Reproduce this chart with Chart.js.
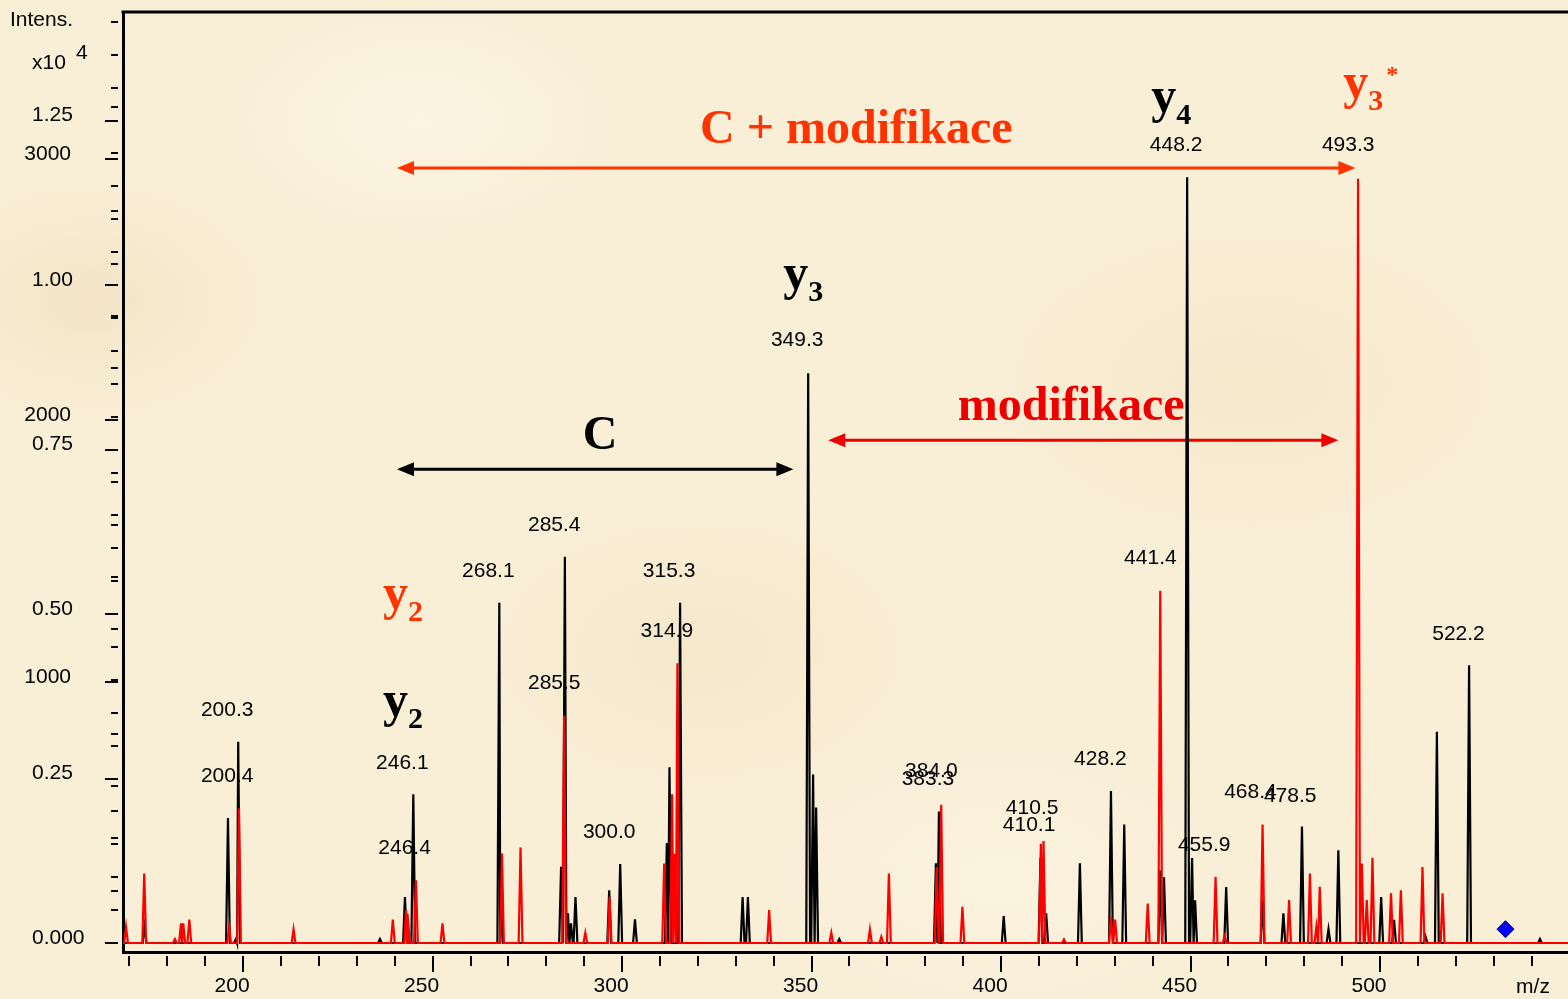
<!DOCTYPE html>
<html>
<head>
<meta charset="utf-8">
<script src="https://cdn.jsdelivr.net/npm/chart.js@4.4.1/dist/chart.umd.min.js"></script>
<style>
html, body { margin: 0; padding: 0; }
body {
  width: 1568px; height: 999px; overflow: hidden;
  background-color: #f9eed6;
  background-image:
    radial-gradient(ellipse 180px 120px at 90px 300px, rgba(236,218,178,0.45), rgba(236,218,178,0)),
    radial-gradient(ellipse 220px 140px at 700px 650px, rgba(238,222,186,0.4), rgba(238,222,186,0)),
    radial-gradient(ellipse 260px 160px at 1250px 380px, rgba(238,220,182,0.35), rgba(238,220,182,0)),
    radial-gradient(ellipse 200px 120px at 420px 120px, rgba(255,250,236,0.6), rgba(255,250,236,0)),
    radial-gradient(ellipse 240px 140px at 1000px 880px, rgba(255,248,232,0.5), rgba(255,248,232,0));
}
canvas { display: block; }
</style>
</head>
<body>
<canvas id="spektrum" width="1568" height="999"></canvas>
<script>
// osa m/z a intenzity
var xMin = 168.3, xMax = 549.6;
var yMin = -0.0137, yMax = 1.415;   // x10^4
var y2Min = -34.4, y2Max = 3563;    // counts

var xTickValues = [200, 250, 300, 350, 400, 450, 500];
var xTickLabels = ['200', '250', '300', '350', '400', '450', '500'];
var yTickValues = [0, 0.25, 0.5, 0.75, 1.0, 1.25];
var yTickLabels = ['0.000', '0.25', '0.50', '0.75', '1.00', '1.25'];
var y2TickValues = [1000, 2000, 3000];
var y2TickLabels = ['1000', '2000', '3000'];

// cerne spektrum (x10^4)
var cerneMz = [174.0, 196.0, 198.1, 198.7, 236.1, 242.7, 244.9, 267.6, 268.1, 283.9, 284.9, 285.7, 286.5, 287.7,
  296.6, 299.5, 303.4, 311.8, 312.5, 315.3, 331.8, 333.2, 349.1, 350.4, 351.2, 357.3, 382.8, 383.6, 400.7,
  410.4, 411.9, 420.8, 429.0, 432.5, 442.0, 443.0, 449.1, 450.4, 451.2, 459.4, 469.0, 474.5, 479.4, 486.4,
  489.0, 500.3, 503.7, 512.0, 515.0, 523.5, 542.2];
var cerneInt = [0.025, 0.19, 0.006, 0.306, 0.006, 0.07, 0.226, 0.517, 0.085, 0.116, 0.587, 0.045, 0.03, 0.07,
  0.08, 0.12, 0.036, 0.152, 0.267, 0.517, 0.07, 0.07, 0.866, 0.256, 0.206, 0.006, 0.121, 0.2, 0.041,
  0.13, 0.045, 0.121, 0.231, 0.18, 0.11, 0.10, 1.164, 0.129, 0.065, 0.085, 0.065, 0.045, 0.177, 0.021,
  0.141, 0.07, 0.035, 0.01, 0.321, 0.422, 0.006];

// cervene spektrum (counts)
var cerveneMz = [169.1, 173.9, 182.0, 183.6, 184.2, 185.8, 196.3, 198.9, 213.3, 239.5, 243.0, 243.5, 245.6,
  252.6, 268.3, 273.2, 284.7, 290.3, 296.7, 311.1, 313.2, 313.8, 314.6, 338.8, 355.2, 365.4, 368.4, 370.4,
  383.0, 384.2, 389.8, 410.5, 411.2, 416.6, 429.0, 430.1, 438.7, 442.0, 456.6, 459.0, 469.0, 476.0, 481.5,
  483.2, 484.1, 494.2, 495.2, 496.5, 498.0, 502.9, 505.5, 511.2, 516.5];
var cerveneInt = [62, 266, 15, 75, 75, 90, 62, 516, 52, 90, 126, 113, 240,
  75, 342, 365, 870, 39, 177, 304, 569, 342, 1071, 126, 39, 52, 24, 266,
  291, 529, 139, 380, 390, 14, 100, 90, 151, 1348, 253, 27, 453, 164, 266,
  62, 215, 2925, 304, 164, 326, 190, 202, 291, 190];

// modry kosoctverec
var znackaMz = [533.1];
var znackaInt = [0.021];

// popisky piku
var popisky = ['448.2', '493.3', '349.3', '285.4', '268.1', '315.3', '314.9', '285.5', '441.4', '522.2',
  '200.3', '200.4', '246.1', '246.4', '300.0', '384.0', '383.3', '410.5', '410.1', '428.2', '455.9', '468.4', '478.5'];
var popiskyMz = [446.2, 491.6, 346.2, 282.1, 264.7, 312.4, 311.8, 282.1, 439.4, 520.7,
  195.8, 195.8, 242.0, 242.6, 296.6, 381.6, 380.7, 408.2, 407.4, 426.2, 453.6, 465.8, 476.3];
var popiskyInt = [1.213, 1.213, 0.916, 0.635, 0.565, 0.565, 0.474, 0.395, 0.585, 0.470,
  0.354, 0.254, 0.274, 0.144, 0.169, 0.261, 0.249, 0.205, 0.179, 0.280, 0.149, 0.229, 0.223];

// oznaceni iontu
var ionyIndex = ['4', '3', '3', '2', '2'];
var ionyHvezda = [false, true, false, false, false];
var ionyMz = [439.6, 490.3, 342.5, 236.9, 236.9];
var ionyInt = [1.263, 1.284, 0.994, 0.508, 0.345];
var ionyBarva = ['#000000', '#ff3300', '#000000', '#ff3300', '#000000'];

// sipky
var sipkyOd = [240.6, 240.6, 354.4];
var sipkyDo = [493.5, 345.2, 489.0];
var sipkyInt = [1.178, 0.720, 0.764];
var sipkyBarva = ['#ff3300', '#000000', '#ee0000'];

var napisy = ['C + modifikace', 'modifikace', 'C'];
var napisyMz = [361.8, 418.5, 294.2];
var napisyInt = [1.234, 0.814, 0.770];
var napisyBarva = ['#ff3300', '#ee0000', '#000000'];

function profil(mz, inten) {
  var body = [{x: xMin, y: 0}];
  var hw = 0.5;
  for (var i = 0; i < mz.length; i++) {
    var lev = mz[i] - hw, prav = mz[i] + hw;
    if (i > 0) lev = Math.max(lev, (mz[i - 1] + mz[i]) / 2);
    if (i < mz.length - 1) prav = Math.min(prav, (mz[i] + mz[i + 1]) / 2);
    body.push({x: lev, y: 0}, {x: mz[i], y: inten[i]}, {x: prav, y: 0});
  }
  body.push({x: xMax, y: 0});
  return body;
}

var SANS = '"Liberation Sans", Arial, sans-serif';
var SERIF = '"Liberation Serif", "Times New Roman", serif';

function sipka(ctx, x1, x2, y, barva) {
  ctx.strokeStyle = barva;
  ctx.fillStyle = barva;
  ctx.lineWidth = 3;
  ctx.beginPath();
  ctx.moveTo(x1 + 10, y);
  ctx.lineTo(x2 - 10, y);
  ctx.stroke();
  ctx.beginPath();
  ctx.moveTo(x1, y); ctx.lineTo(x1 + 17, y - 7); ctx.lineTo(x1 + 17, y + 7); ctx.closePath();
  ctx.fill();
  ctx.beginPath();
  ctx.moveTo(x2, y); ctx.lineTo(x2 - 17, y - 7); ctx.lineTo(x2 - 17, y + 7); ctx.closePath();
  ctx.fill();
}

var ozdoby = {
  id: 'ozdoby',
  beforeDatasetsDraw: function(chart) {
    var ctx = chart.ctx, sx = chart.scales.x, sy = chart.scales.y;
    var i;
    ctx.save();
    // cisla u piku
    ctx.font = '21px ' + SANS;
    ctx.fillStyle = '#000';
    ctx.textAlign = 'center';
    ctx.textBaseline = 'middle';
    for (i = 0; i < popisky.length; i++) {
      ctx.fillText(popisky[i], sx.getPixelForValue(popiskyMz[i]), sy.getPixelForValue(popiskyInt[i]));
    }
    // sipky
    for (i = 0; i < sipkyOd.length; i++) {
      sipka(ctx, sx.getPixelForValue(sipkyOd[i]), sx.getPixelForValue(sipkyDo[i]), sy.getPixelForValue(sipkyInt[i]), sipkyBarva[i]);
    }
    // velke napisy
    ctx.font = 'bold 48px ' + SERIF;
    for (i = 0; i < napisy.length; i++) {
      ctx.fillStyle = napisyBarva[i];
      ctx.fillText(napisy[i], sx.getPixelForValue(napisyMz[i]), sy.getPixelForValue(napisyInt[i]));
    }
    // y ionty
    ctx.textAlign = 'left';
    ctx.textBaseline = 'alphabetic';
    for (i = 0; i < ionyIndex.length; i++) {
      var px = sx.getPixelForValue(ionyMz[i]), py = sy.getPixelForValue(ionyInt[i]);
      ctx.fillStyle = ionyBarva[i];
      ctx.font = 'bold 50px ' + SERIF;
      ctx.fillText('y', px, py);
      var w = ctx.measureText('y').width;
      ctx.font = 'bold 30px ' + SERIF;
      ctx.fillText(ionyIndex[i], px + w, py + 12);
      if (ionyHvezda[i]) {
        var w2 = ctx.measureText(ionyIndex[i]).width;
        ctx.font = 'bold 24px ' + SERIF;
        ctx.fillText('*', px + w + w2 + 3, py - 16);
      }
    }
    ctx.restore();
  },
  afterDraw: function(chart) {
    var ctx = chart.ctx, a = chart.chartArea;
    var sx = chart.scales.x, sy = chart.scales.y, sy2 = chart.scales.y2;
    var v, p, i;
    ctx.save();
    // horni okraj
    ctx.strokeStyle = '#000';
    ctx.lineWidth = 3;
    ctx.beginPath();
    ctx.moveTo(a.left - 1.5, a.top);
    ctx.lineTo(a.right, a.top);
    ctx.stroke();

    // carky na ose y (obe stupnice)
    ctx.lineWidth = 2;
    for (i = 0; i <= 28; i++) {
      v = i * 0.05;
      p = Math.round(sy.getPixelForValue(v));
      ctx.beginPath();
      ctx.moveTo(i % 5 === 0 ? 105 : 111, p);
      ctx.lineTo(118, p);
      ctx.stroke();
    }
    for (i = 0; i <= 17; i++) {
      v = i * 200;
      p = Math.round(sy2.getPixelForValue(v));
      ctx.beginPath();
      ctx.moveTo(i % 5 === 0 ? 105 : 111, p);
      ctx.lineTo(118, p);
      ctx.stroke();
    }
    // popisky druhe stupnice
    ctx.font = '21px ' + SANS;
    ctx.fillStyle = '#000';
    ctx.textAlign = 'right';
    ctx.textBaseline = 'middle';
    for (i = 0; i < y2TickValues.length; i++) {
      ctx.fillText(y2TickLabels[i], 71, sy2.getPixelForValue(y2TickValues[i]) - 5);
    }
    // carky na ose x
    for (i = 17; i <= 54; i++) {
      p = Math.round(sx.getPixelForValue(i * 10));
      ctx.beginPath();
      ctx.moveTo(p, 956);
      ctx.lineTo(p, i % 5 === 0 ? 972 : 966);
      ctx.stroke();
    }
    // nazvy os
    ctx.textAlign = 'left';
    ctx.fillText('Intens.', 10, 20);
    ctx.fillText('x10', 32, 63);
    ctx.fillText('4', 76, 53);
    ctx.textAlign = 'center';
    ctx.fillText('m/z', 1533, 987);
    ctx.restore();
  }
};

var ctx = document.getElementById('spektrum').getContext('2d');
var chart = new Chart(ctx, {
  type: 'line',
  data: {
    datasets: [{
      label: 'cerne',
      data: profil(cerneMz, cerneInt),
      borderColor: '#000000',
      borderWidth: 2.2,
      pointRadius: 0,
      tension: 0,
      yAxisID: 'y',
      order: 3
    }, {
      label: 'cervene',
      data: profil(cerveneMz, cerveneInt),
      borderColor: '#ff0000',
      borderWidth: 2.2,
      pointRadius: 0,
      tension: 0,
      yAxisID: 'y2',
      order: 2
    }, {
      label: 'prekurzor',
      data: znackaMz.map(function(m, i) { return {x: m, y: znackaInt[i]}; }),
      showLine: false,
      pointStyle: 'rectRot',
      pointRadius: 8.5,
      pointHoverRadius: 8.5,
      backgroundColor: '#0000ff',
      borderColor: '#000066',
      borderWidth: 1,
      yAxisID: 'y',
      order: 1
    }]
  },
  options: {
    responsive: false,
    animation: false,
    layout: { autoPadding: false, padding: { left: 32, top: 12, right: 0, bottom: 0 } },
    plugins: { legend: { display: false }, tooltip: { enabled: false } },
    scales: {
      x: {
        type: 'linear',
        min: xMin,
        max: xMax,
        grid: { display: false, drawTicks: false },
        border: { display: true, color: '#000', width: 3 },
        afterBuildTicks: function(s) { s.ticks = xTickValues.map(function(v) { return {value: v}; }); },
        afterFit: function(s) { s.height = 47; s.paddingLeft = 0; s.paddingRight = 0; },
        ticks: {
          autoSkip: false,
          maxRotation: 0,
          padding: 22,
          labelOffset: -11,
          color: '#000',
          font: { family: SANS, size: 21 },
          callback: function(value, index) { return xTickLabels[index]; }
        }
      },
      y: {
        type: 'linear',
        position: 'left',
        min: yMin,
        max: yMax,
        grid: { display: false, drawTicks: false },
        border: { display: true, color: '#000', width: 3 },
        afterBuildTicks: function(s) { s.ticks = yTickValues.map(function(v) { return {value: v}; }); },
        afterFit: function(s) { s.width = 91; s.paddingTop = 0; s.paddingBottom = 0; },
        ticks: {
          autoSkip: false,
          crossAlign: 'far',
          padding: 0,
          labelOffset: -5,
          color: '#000',
          font: { family: SANS, size: 21 },
          callback: function(value, index) { return yTickLabels[index]; }
        }
      },
      y2: {
        type: 'linear',
        position: 'left',
        display: false,
        min: y2Min,
        max: y2Max
      }
    }
  },
  plugins: [ozdoby]
});
</script>
</body>
</html>
